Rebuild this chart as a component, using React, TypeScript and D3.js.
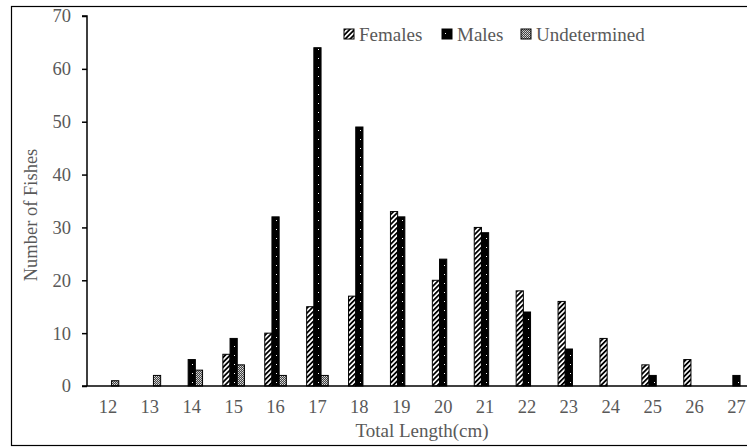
import { useEffect, useRef } from "react";
import * as d3 from "d3";

// Total length classes (cm)
const lengths = ["12", "13", "14", "15", "16", "17", "18", "19", "20", "21", "22", "23", "24", "25", "26", "27"];
const series = ["Females", "Males", "Undetermined"];

// Number of fishes per length class
const females = [0, 0, 0, 6, 10, 15, 17, 33, 20, 30, 18, 16, 9, 4, 5, 0];
const males = [0, 0, 5, 9, 32, 64, 49, 32, 24, 29, 14, 7, 0, 2, 0, 2];
const undetermined = [1, 2, 3, 4, 2, 2, 0, 0, 0, 0, 0, 0, 0, 0, 0, 0];

const yTicks = [0, 10, 20, 30, 40, 50, 60, 70];

const W = 747;
const H = 447;
const FONT = "'Liberation Serif', 'Times New Roman', serif";
const GREY = "#595959";

export default function App() {
  const ref = useRef<SVGSVGElement>(null);

  useEffect(() => {
    const svg = d3.select(ref.current);
    svg.selectAll("*").remove();

    const left = 87;
    const step = 41.9;

    // Patterns for the three series
    const defs = svg.append("defs");
    const pf = defs.append("pattern")
      .attr("id", "p-females")
      .attr("patternUnits", "userSpaceOnUse")
      .attr("width", 3.5)
      .attr("height", 3.5)
      .attr("patternTransform", "rotate(45)");
    pf.append("rect").attr("width", 3.5).attr("height", 3.5).attr("fill", "#fff");
    pf.append("rect").attr("width", 1.8).attr("height", 3.5).attr("fill", "#000");

    const pm = defs.append("pattern")
      .attr("id", "p-males")
      .attr("patternUnits", "userSpaceOnUse")
      .attr("width", 7)
      .attr("height", 9);
    pm.append("rect").attr("width", 7).attr("height", 9).attr("fill", "#000");
    pm.append("rect").attr("x", 3).attr("y", 4).attr("width", 1).attr("height", 1).attr("fill", "#fff");

    const pu = defs.append("pattern")
      .attr("id", "p-undet")
      .attr("patternUnits", "userSpaceOnUse")
      .attr("width", 2)
      .attr("height", 2);
    pu.append("rect").attr("width", 2).attr("height", 2).attr("fill", "#444");
    pu.append("rect").attr("width", 1).attr("height", 1).attr("fill", "#ddd");
    pu.append("rect").attr("x", 1).attr("y", 1).attr("width", 1).attr("height", 1).attr("fill", "#bbb");

    const fills: Record<string, string> = {
      Females: "url(#p-females)",
      Males: "url(#p-males)",
      Undetermined: "url(#p-undet)",
    };
    const values: Record<string, number[]> = {
      Females: females,
      Males: males,
      Undetermined: undetermined,
    };

    // Outer frame
    svg.append("rect")
      .attr("x", 11.5)
      .attr("y", 6.5)
      .attr("width", W + 20)
      .attr("height", 439)
      .attr("fill", "none")
      .attr("stroke", "#000")
      .attr("stroke-width", 1.2);

    const x = d3.scaleBand()
      .domain(lengths)
      .range([left, left + step * lengths.length]);

    const xs = d3.scaleBand()
      .domain(series)
      .range([0, x.bandwidth()])
      .paddingOuter(1.41);

    const y = d3.scaleLinear()
      .domain([0, 70])
      .range([386, 16]);

    // Bars
    series.forEach(s => {
      svg.append("g")
        .selectAll("rect")
        .data(lengths.map((l, i) => ({ l, v: values[s][i] })).filter(d => d.v > 0))
        .enter()
        .append("rect")
        .attr("x", d => x(d.l)! + xs(s)!)
        .attr("y", d => y(d.v))
        .attr("width", xs.bandwidth())
        .attr("height", d => y(0) - y(d.v))
        .attr("fill", fills[s])
        .attr("stroke", "#000")
        .attr("stroke-width", 1);
    });

    // Y axis
    const gy = svg.append("g")
      .attr("transform", `translate(${left},0)`)
      .call(d3.axisLeft(y).tickValues(yTicks).tickSize(5).tickPadding(11));
    gy.select(".domain").attr("stroke", "#000").attr("stroke-width", 1.5).attr("d", `M-5,${y(70)}H0V${y(0)}`);
    gy.selectAll(".tick line").attr("stroke", "#000").attr("stroke-width", 1.5);
    gy.selectAll("text")
      .attr("font-family", FONT)
      .attr("font-size", 18.5)
      .attr("fill", GREY);

    // X axis
    const gx = svg.append("g")
      .attr("transform", `translate(0,${y(0)})`)
      .call(d3.axisBottom(x).tickSize(0).tickPadding(14));
    gx.select(".domain").attr("stroke", "#000").attr("stroke-width", 1.5).attr("d", `M${left - 5},0H${W + 20}`);
    gx.selectAll("text")
      .attr("font-family", FONT)
      .attr("font-size", 18.5)
      .attr("fill", GREY);

    // Axis titles
    svg.append("text")
      .attr("x", 422)
      .attr("y", 437)
      .attr("text-anchor", "middle")
      .attr("font-family", FONT)
      .attr("font-size", 19)
      .attr("fill", GREY)
      .text("Total Length(cm)");

    svg.append("text")
      .attr("transform", `translate(37,215) rotate(-90)`)
      .attr("text-anchor", "middle")
      .attr("font-family", FONT)
      .attr("font-size", 18.5)
      .attr("fill", GREY)
      .text("Number of Fishes");

    // Legend
    const legendX = [344, 442, 521];
    series.forEach((s, i) => {
      const g = svg.append("g").attr("transform", `translate(${legendX[i]},29)`);
      g.append("rect")
        .attr("width", 10)
        .attr("height", 10)
        .attr("fill", fills[s])
        .attr("stroke", "#000")
        .attr("stroke-width", 1);
      g.append("text")
        .attr("x", 15)
        .attr("y", 11.5)
        .attr("font-family", FONT)
        .attr("font-size", 19)
        .attr("fill", GREY)
        .text(s);
    });
  }, []);

  return (
    <>
      <style>{"body{margin:0;overflow:hidden}"}</style>
      <svg ref={ref} width={W} height={H} style={{ display: "block", background: "#fff" }} />
    </>
  );
}
